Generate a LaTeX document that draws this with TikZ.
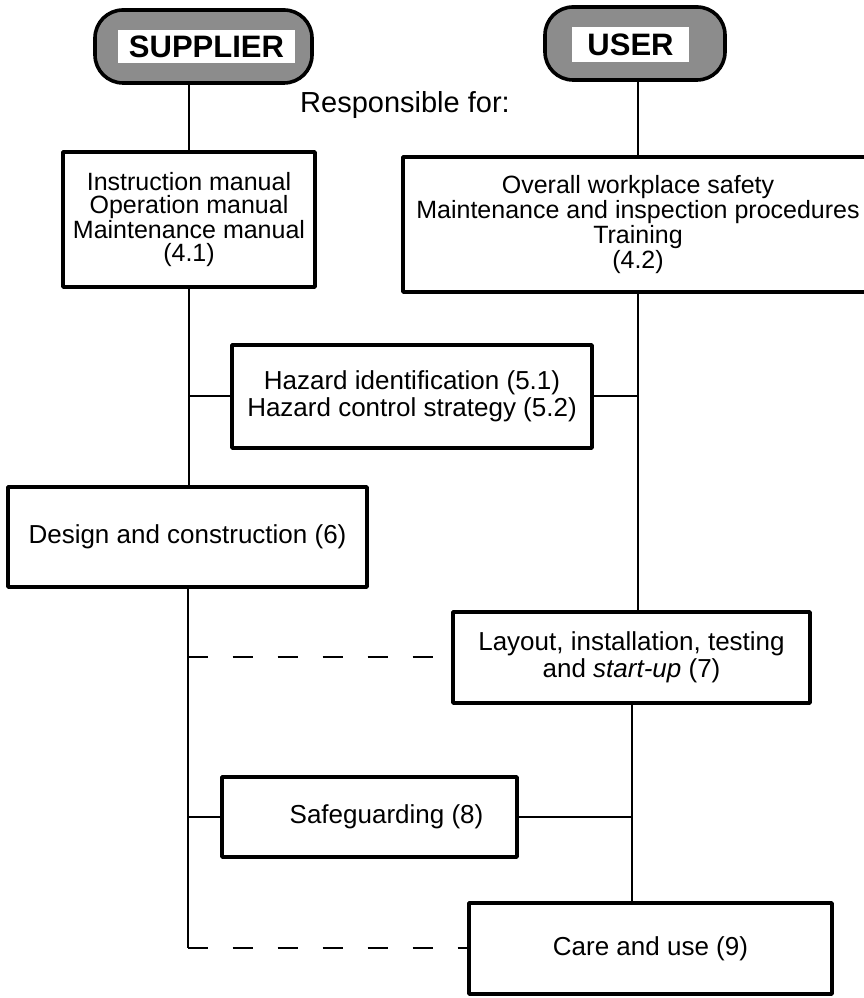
\documentclass[tikz,border=0pt]{standalone}
\usepackage{fontspec}
\setmainfont{Liberation Sans}
\begin{document}
\begin{tikzpicture}[line join=bevel,
  frame/.style={draw=black,line width=1.8bp,rounded corners=14bp,fill=black!45,inner sep=0pt},
  tag/.style={fill=white,draw=none,inner sep=0pt,font=\fontsize{15.5bp}{16bp}\selectfont\bfseries},
  duty/.style={draw=black,line width=2.4bp,fill=white,align=center,inner sep=2bp,font=\fontsize{12.5bp}{11.4bp}\selectfont},
  task/.style={duty,font=\fontsize{13bp}{13.5bp}\selectfont},
  link/.style={black,line width=1bp},
  loose/.style={link,dash pattern=on 10bp off 12.5bp},
]
\useasboundingbox (0bp,0bp) rectangle (432bp,499bp);
%%
\node (node_supplier_frame) at (101.75bp,475.75bp) [frame,minimum width=108.5bp,minimum height=36.5bp] {};
  \node (node_supplier) at (103.25bp,475.75bp) [tag,minimum width=88.5bp,minimum height=16.5bp] {SUPPLIER};
  \node (node_user_frame) at (317.5bp,477.25bp) [frame,minimum width=90bp,minimum height=36.5bp] {};
  \node (node_user) at (315.25bp,476.75bp) [tag,minimum width=58.5bp,minimum height=17.5bp] {USER};
  \node (node_resp) at (202.5bp,446.5bp) [font=\fontsize{14.5bp}{15bp}\selectfont] {Responsible for:};
%
\node (node_manuals) at (94.5bp,389.25bp) [duty,minimum width=126bp,minimum height=67.5bp] {Instruction manual\\Operation manual\\Maintenance manual\\(4.1)};
  \node (node_workplace) at (319bp,386.75bp) [duty,minimum width=235bp,minimum height=67.5bp] {Overall workplace safety\\Maintenance and inspection procedures\\Training\\(4.2)};
  \node (node_hazard) at (206bp,300.75bp) [task,minimum width=180bp,minimum height=51.5bp] {Hazard identification (5.1)\\Hazard control strategy (5.2)};
  \node (node_design) at (93.75bp,230.5bp) [task,minimum width=179.5bp,minimum height=50bp] {Design and construction (6)};
  \node (node_layout) at (315.75bp,170.25bp) [task,minimum width=178.5bp,minimum height=45.5bp] {Layout, installation, testing\\and \textit{start-up} (7)};
  \node (node_safeguard) at (184.75bp,90.5bp) [task,minimum width=147.5bp,minimum height=40bp] {\hspace*{17bp}Safeguarding (8)};
  \node (node_care) at (325.25bp,24.75bp) [task,minimum width=181.5bp,minimum height=45.5bp] {Care and use (9)};
%
\draw [link] (node_manuals.north |- node_supplier_frame.south) -- (node_manuals.north);
  \draw [link] (node_workplace.north |- node_user_frame.south) -- (node_workplace.north);
  \draw [link] (node_manuals.south) -- (node_design.north -| node_manuals.south);
  \draw [link] (node_hazard.west -| node_manuals.south) -- (node_hazard.west);
  \draw [link] (node_hazard.east) -- (node_hazard.east -| node_workplace.south);
  \draw [link] (node_workplace.south) -- (node_layout.north -| node_workplace.south);
  \draw [link] (node_design.south) -- (node_design.south |- node_care.west);
  \draw [loose] (node_design.south |- node_layout.west) -- (node_layout.west);
  \draw [loose] (node_design.south |- node_care.west) -- (node_care.west);
  \draw [link] (node_safeguard.west -| node_design.south) -- (node_safeguard.west);
  \draw [link] (node_safeguard.east) -- (node_safeguard.east -| node_layout.south);
  \draw [link] (node_layout.south) -- (node_layout.south |- node_care.north);
%
\end{tikzpicture}
\end{document}
